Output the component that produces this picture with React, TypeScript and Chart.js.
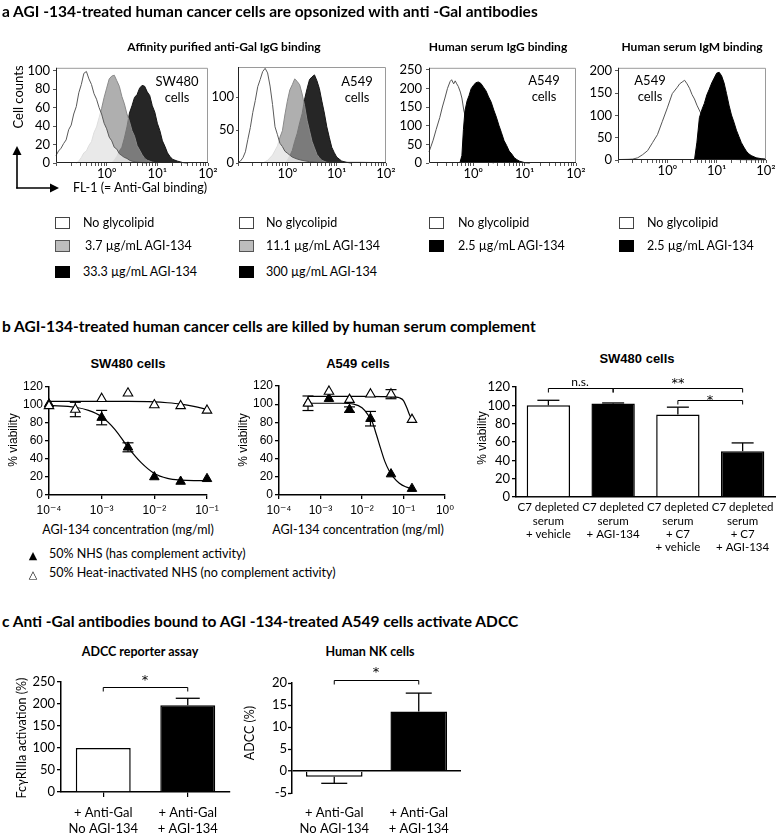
import React, { useEffect, useRef } from 'react';
import { Chart, registerables } from 'chart.js';

Chart.register(...registerables);

const LATO = 'Lato, "Open Sans", "DejaVu Sans", sans-serif';
const ARIAL = '"Liberation Sans", Arial, "DejaVu Sans", sans-serif';
Chart.defaults.font.family = LATO;
Chart.defaults.color = '#000';

// ---------------- Panel a: flow cytometry histograms ----------------
// x = log10(FL-1 intensity), y = cell counts
const histDecades = [-1, 0, 1, 2];
const histMinorSteps = [1, 2, 3, 4, 5, 6, 7, 8, 9];
const histTickLabels = ['', '10⁰', '10¹', '10²'];

// SW480, affinity purified anti-Gal IgG
const h1NoneLog = [-1.0, -0.95, -0.9, -0.85, -0.8, -0.75, -0.7, -0.65, -0.6, -0.55, -0.5, -0.45, -0.4, -0.35, -0.3, -0.25, -0.2, -0.15, -0.1, -0.05, 0.0, 0.05, 0.1, 0.15, 0.2, 0.25, 0.3, 0.35, 0.4, 0.45, 0.5, 0.6, 0.7, 0.8];
const h1NoneCnt = [8, 13, 16, 21, 25, 36, 41, 53, 61, 76, 85, 97, 99, 91, 85, 75, 69, 60, 53, 43, 37, 28, 24, 17, 15, 10, 8, 6, 5, 3, 2, 1, 0.5, 0];
const h1LowLog = [-0.6, -0.55, -0.5, -0.45, -0.4, -0.35, -0.3, -0.25, -0.2, -0.15, -0.1, -0.05, 0.0, 0.05, 0.1, 0.15, 0.2, 0.25, 0.3, 0.35, 0.4, 0.45, 0.5, 0.55, 0.6, 0.65, 0.7, 0.75, 0.8, 0.9, 1.0];
const h1LowCnt = [0, 2, 6, 11, 13, 19, 23, 33, 39, 49, 59, 71, 81, 91, 94, 95, 89, 83, 72, 64, 53, 45, 35, 29, 19, 14, 9, 5, 3, 1, 0];
const h1HighLog = [0.1, 0.15, 0.2, 0.25, 0.3, 0.35, 0.4, 0.45, 0.5, 0.55, 0.6, 0.65, 0.7, 0.75, 0.8, 0.85, 0.9, 0.95, 1.0, 1.05, 1.1, 1.15, 1.2, 1.25, 1.3, 1.4, 1.5, 1.6];
const h1HighCnt = [0, 3, 7, 13, 17, 27, 39, 54, 62, 71, 74, 81, 84, 83, 77, 73, 62, 55, 43, 35, 24, 18, 11, 7, 4, 2, 0.5, 0];

// A549, affinity purified anti-Gal IgG
const h2NoneLog = [-1.0, -0.95, -0.9, -0.85, -0.8, -0.75, -0.7, -0.65, -0.6, -0.55, -0.5, -0.45, -0.4, -0.35, -0.3, -0.25, -0.2, -0.15, -0.1, -0.05, 0.0, 0.05, 0.1, 0.2, 0.3, 0.45, 0.6, 0.8, 1.0, 1.5, 2.0];
const h2NoneCnt = [1, 3, 8, 17, 36, 54, 77, 95, 116, 127, 139, 144, 137, 117, 89, 55, 43, 30, 25, 18, 15, 12, 9, 6, 4, 2, 1, 1, 1, 1, 0.5];
const h2LowLog = [-0.5, -0.4, -0.3, -0.25, -0.2, -0.15, -0.1, -0.05, 0.0, 0.05, 0.1, 0.15, 0.2, 0.25, 0.3, 0.35, 0.4, 0.45, 0.5, 0.55, 0.6, 0.65, 0.7, 0.8, 0.9];
const h2LowCnt = [0, 4, 12, 19, 26, 39, 49, 73, 94, 111, 119, 128, 124, 119, 105, 87, 65, 49, 33, 23, 13, 8, 4, 1, 0];
const h2HighLog = [-0.05, 0.0, 0.05, 0.1, 0.15, 0.2, 0.25, 0.3, 0.35, 0.4, 0.45, 0.5, 0.55, 0.6, 0.65, 0.7, 0.75, 0.8, 0.85, 0.9, 0.95, 1.0, 1.05, 1.1, 1.2, 1.3];
const h2HighCnt = [0, 4, 11, 19, 33, 45, 61, 75, 97, 113, 127, 131, 134, 125, 113, 94, 76, 55, 39, 24, 16, 9, 6, 3, 1, 0];

// A549, human serum IgG
const h3NoneLog = [-0.86, -0.82, -0.78, -0.72, -0.65, -0.6, -0.55, -0.5, -0.45, -0.42, -0.38, -0.35, -0.32, -0.29, -0.25, -0.22, -0.18, -0.12, 0.0, 0.1, 0.2, 0.3, 0.4];
const h3NoneCnt = [30, 45, 61, 90, 122, 150, 174, 200, 218, 223, 212, 220, 212, 205, 190, 174, 139, 110, 60, 30, 12, 4, 0];
const h3HighLog = [-0.26, -0.22, -0.19, -0.16, -0.12, -0.08, -0.04, 0.0, 0.05, 0.1, 0.15, 0.2, 0.25, 0.3, 0.35, 0.4, 0.45, 0.5, 0.55, 0.6, 0.65, 0.7, 0.75, 0.8, 0.85, 0.9, 0.95, 1.0, 1.1];
const h3HighCnt = [0, 20, 90, 140, 166, 181, 199, 207, 215, 217, 213, 203, 193, 177, 163, 142, 123, 101, 81, 60, 47, 32, 24, 14, 9, 5, 3, 1, 0];

// A549, human serum IgM
const h4NoneLog = [-1.0, -0.8, -0.7, -0.6, -0.5, -0.4, -0.3, -0.2, -0.1, 0.0, 0.1, 0.2, 0.25, 0.3, 0.35, 0.4, 0.45, 0.5, 0.55, 0.6, 0.7, 0.8, 0.9, 1.0, 1.1, 1.2, 1.3, 1.4, 1.6, 2.0];
const h4NoneCnt = [1, 1.5, 2, 5, 12, 21, 39, 57, 87, 117, 149, 163, 171, 175, 179, 171, 161, 147, 137, 123, 100, 72, 48, 30, 18, 9, 4, 1, 0.5, 0.5];
const h4HighLog = [0.55, 0.6, 0.65, 0.7, 0.75, 0.8, 0.85, 0.9, 0.95, 1.0, 1.05, 1.1, 1.15, 1.2, 1.25, 1.3, 1.35, 1.4, 1.45, 1.5, 1.55, 1.6, 1.65, 1.7, 1.8, 1.9, 2.0];
const h4HighCnt = [0, 40, 95, 113, 127, 146, 159, 173, 184, 195, 197, 189, 173, 149, 123, 101, 85, 67, 53, 39, 29, 20, 14, 10, 5, 3, 2];

// ---------------- Panel b: complement-dependent killing ----------------
const swDecades = [-4, -3, -2, -1];
const swTickLabels = ['10⁻⁴', '10⁻³', '10⁻²', '10⁻¹'];
const swConcHI = [0.0001, 0.000316, 0.001, 0.00316, 0.01, 0.0316, 0.1];
const swHI = [99, 95, 107, 113, 100, 99, 94];
const swHIErr = [0, 8, 0, 0, 0, 0, 0];
const swConcNHS = [0.0001, 0.001, 0.00316, 0.01, 0.0316, 0.1];
const swNHS = [101, 86, 53, 20, 15, 18];
const swNHSErr = [0, 8, 5, 0, 0, 0];
const swFitHILog = [-4, -3, -2.5, -2, -1.75, -1.5, -1.25, -1];
const swFitHI = [104, 104, 104, 103.5, 102.5, 101, 98.5, 95];
const swFitNHSLog = [-4, -3.5, -3.25, -3, -2.75, -2.5, -2.25, -2, -1.75, -1.5, -1.25, -1];
const swFitNHS = [99.5, 97.5, 94, 87, 73, 53, 36, 24, 18.5, 16.5, 16, 16];

const a5Decades = [-4, -3, -2, -1, 0];
const a5TickLabels = ['10⁻⁴', '10⁻³', '10⁻²', '10⁻¹', '10⁰'];
const a5Conc = [0.0005, 0.0016, 0.005, 0.016, 0.05, 0.16];
const a5HI = [101, 114, 105, 111, 111, 83];
const a5HIErr = [8, 0, 0, 0, 5, 0];
const a5NHS = [101, 106, 94, 84, 23, 7];
const a5NHSErr = [0, 0, 3, 8, 0, 0];
const a5FitHILog = [-3.3, -2.0, -1.5, -1.2, -1.1, -1.0, -0.92, -0.86, -0.8];
const a5FitHI = [108.5, 108.5, 108.3, 107.8, 107, 104, 96, 89, 83];
const a5FitNHSLog = [-3.3, -2.5, -2.2, -2.0, -1.85, -1.75, -1.65, -1.55, -1.45, -1.35, -1.25, -1.1, -0.95, -0.8];
const a5FitNHS = [101, 101, 100, 96, 88, 80, 66, 51, 37, 27, 20, 13, 9, 7];

const bBarLabels = [
  ['C7 depleted', 'serum', '+ vehicle'],
  ['C7 depleted', 'serum', '+ AGI-134'],
  ['C7 depleted', 'serum', '+ C7', '+ vehicle'],
  ['C7 depleted', 'serum', '+ C7', '+ AGI-134'],
];
const bBarValues = [100, 102, 90, 50];
const bBarErr = [5.5, 0.6, 8, 9];
const bBarBrackets = [
  { from: 0, to: 1, at: 119 },
  { from: 1, to: 3, at: 119 },
  { from: 2, to: 3, at: 106 },
];

// ---------------- Panel c: ADCC ----------------
const cLabels = [
  ['+ Anti-Gal', 'No AGI-134'],
  ['+ Anti-Gal', '+ AGI-134'],
];
const c1Values = [100, 197];
const c1Err = [0, 16];
const c1Brackets = [{ from: 0, to: 1, at: 239 }];
const c2Values = [-1.3, 13.5];
const c2Err = [1.5, 4.2];
const c2Brackets = [{ from: 0, to: 1, at: 20.7 }];

// ---------------- plugins ----------------
function drawErr(chart: any, index: number, when: string) {
  const ds = chart.data.datasets[index];
  if (!ds.err || (ds.errWhen || 'after') !== when) return;
  const meta = chart.getDatasetMeta(index);
  const ys = chart.scales[meta.yAxisID];
  const ctx = chart.ctx;
  const half = (ds.errCap || 12) / 2;
  ctx.save();
  ctx.strokeStyle = '#000';
  ctx.lineWidth = ds.errWidth || 1.2;
  meta.data.forEach((el: any, i: number) => {
    const e = ds.err[i];
    if (!e) return;
    const raw = ds.data[i];
    const v = typeof raw === 'number' ? raw : raw.y;
    const x = el.x;
    const ends = ds.errOneSided ? [v + (v < 0 ? -e : e)] : [v + e, v - e];
    const start = ds.errOneSided ? v : v - e;
    ctx.beginPath();
    ctx.moveTo(x, ys.getPixelForValue(start));
    ctx.lineTo(x, ys.getPixelForValue(ends[0]));
    ctx.stroke();
    ends.forEach((end: number) => {
      const py = ys.getPixelForValue(end);
      ctx.beginPath();
      ctx.moveTo(x - half, py);
      ctx.lineTo(x + half, py);
      ctx.stroke();
    });
  });
  ctx.restore();
}

const errPlugin = {
  id: 'errBars',
  beforeDatasetDraw(chart: any, args: any) { drawErr(chart, args.index, 'before'); },
  afterDatasetDraw(chart: any, args: any) { drawErr(chart, args.index, 'after'); },
};

function makeBrackets(items: any[], drop: number) {
  return {
    id: 'brackets',
    afterDatasetsDraw(chart: any) {
      const xs = chart.scales.x;
      const ys = chart.scales.y;
      const ctx = chart.ctx;
      ctx.save();
      ctx.strokeStyle = '#000';
      ctx.lineWidth = 1;
      items.forEach((b) => {
        const x1 = xs.getPixelForValue(b.from);
        const x2 = xs.getPixelForValue(b.to);
        const y = Math.round(ys.getPixelForValue(b.at)) + 0.5;
        ctx.beginPath();
        ctx.moveTo(x1, y + drop);
        ctx.lineTo(x1, y);
        ctx.lineTo(x2, y);
        ctx.lineTo(x2, y + drop);
        ctx.stroke();
      });
      ctx.restore();
    },
  };
}

const framePlugin = {
  id: 'frame',
  afterDatasetsDraw(chart: any) {
    const { ctx, chartArea: a } = chart;
    ctx.save();
    ctx.lineWidth = 1;
    ctx.strokeStyle = '#9a9a9a';
    ctx.beginPath();
    ctx.moveTo(a.left, a.top + 0.5);
    ctx.lineTo(a.right - 0.5, a.top + 0.5);
    ctx.lineTo(a.right - 0.5, a.bottom);
    ctx.stroke();
    ctx.strokeStyle = '#222';
    ctx.beginPath();
    ctx.moveTo(a.left + 0.5, a.top);
    ctx.lineTo(a.left + 0.5, a.bottom - 0.5);
    ctx.lineTo(a.right, a.bottom - 0.5);
    ctx.stroke();
    ctx.restore();
  },
};

// ---------------- config builders ----------------
function histLabel(v: number) {
  const i = histDecades.findIndex((d) => Math.abs(v / 10 ** d - 1) < 1e-6);
  return i >= 0 ? histTickLabels[i] : '';
}

function histConfig(series: any[], xMinLog: number, xMaxLog: number, yMax: number, yStep: number, yPad: number, yTick: number) {
  return {
    type: 'line',
    data: {
      datasets: series.map((s) => ({
        data: s.log.map((e: number, i: number) => ({ x: 10 ** e, y: s.cnt[i] })),
        backgroundColor: s.bg,
        borderColor: s.bc,
        borderWidth: 1,
        fill: 'origin',
        pointRadius: 0,
        tension: 0,
        clip: 1,
      })),
    },
    options: {
      plugins: { legend: { display: false }, tooltip: { enabled: false } },
      scales: {
        x: {
          type: 'logarithmic',
          min: 10 ** xMinLog,
          max: 10 ** xMaxLog,
          afterBuildTicks: (sc: any) => {
            const t: any[] = [];
            histDecades.forEach((d) => histMinorSteps.forEach((m) => {
              const v = m * 10 ** d;
              if (v >= sc.min * 0.999 && v <= sc.max * 1.001) t.push({ value: v });
            }));
            sc.ticks = t;
          },
          ticks: { autoSkip: false, maxRotation: 0, padding: 0, font: { family: LATO, size: 13 }, color: '#000', callback: (v: number) => histLabel(v) },
          grid: { drawOnChartArea: false, tickLength: 3, color: '#555' },
          border: { display: false },
        },
        y: {
          min: 0,
          max: yMax,
          ticks: { stepSize: yStep, includeBounds: false, autoSkip: false, padding: yPad, font: { family: LATO, size: 13 }, color: '#000' },
          grid: { drawOnChartArea: false, tickLength: yTick, color: '#555' },
          border: { display: false },
        },
      },
    },
    plugins: [framePlugin],
  };
}

function doseConfig(p: any) {
  const pts = (xs: number[], ys: number[]) => xs.map((x, i) => ({ x, y: ys[i] }));
  const fit = (ls: number[], ys: number[]) => ls.map((l, i) => ({ x: 10 ** l, y: ys[i] }));
  const tri = { pointStyle: 'triangle', pointRadius: 5.5, pointHoverRadius: 5.5, borderColor: '#000', clip: false, errWhen: 'before', errCap: 11, errWidth: 1.2 };
  return {
    type: 'scatter',
    data: {
      datasets: [
        { ...tri, data: pts(p.hiConc, p.hi), err: p.hiErr, backgroundColor: '#fff', borderWidth: 1.1 },
        { ...tri, data: pts(p.nhsConc, p.nhs), err: p.nhsErr, backgroundColor: '#000', borderWidth: 1 },
        { data: fit(p.fitHiLog, p.fitHi), showLine: true, pointRadius: 0, borderColor: '#000', borderWidth: 1.2, cubicInterpolationMode: 'monotone', clip: false },
        { data: fit(p.fitNhsLog, p.fitNhs), showLine: true, pointRadius: 0, borderColor: '#000', borderWidth: 1.2, cubicInterpolationMode: 'monotone', clip: false },
      ],
    },
    options: {
      plugins: { legend: { display: false }, tooltip: { enabled: false } },
      scales: {
        x: {
          type: 'logarithmic',
          min: 10 ** p.decades[0],
          max: 10 ** p.decades[p.decades.length - 1],
          afterBuildTicks: (sc: any) => { sc.ticks = p.decades.map((d: number) => ({ value: 10 ** d })); },
          ticks: {
            autoSkip: false, maxRotation: 0, padding: 4, font: { family: ARIAL, size: 12 }, color: '#000',
            callback: (v: number) => {
              const i = p.decades.findIndex((d: number) => Math.abs(v / 10 ** d - 1) < 1e-6);
              return i >= 0 ? p.labels[i] : '';
            },
          },
          grid: { drawOnChartArea: false, tickLength: 4, color: '#000', lineWidth: 1.3 },
          border: { color: '#000', width: 1.5 },
        },
        y: {
          min: 0, max: 120,
          ticks: { stepSize: 20, autoSkip: false, padding: 2, font: { family: ARIAL, size: 12 }, color: '#000' },
          grid: { drawOnChartArea: false, tickLength: 4, color: '#000', lineWidth: 1.3 },
          border: { color: '#000', width: 1.5 },
        },
      },
    },
    plugins: [errPlugin],
  };
}

function bBarConfig() {
  return {
    type: 'bar',
    data: {
      labels: bBarLabels,
      datasets: [{
        data: bBarValues, err: bBarErr, errOneSided: true, errCap: 22, errWidth: 1.3,
        backgroundColor: ['#fff', '#000', '#fff', '#000'], borderColor: '#000', borderWidth: 1.5,
        barPercentage: 0.67, categoryPercentage: 1,
      }],
    },
    options: {
      plugins: { legend: { display: false }, tooltip: { enabled: false } },
      scales: {
        x: {
          grid: { display: false, drawTicks: false },
          border: { color: '#000', width: 1.5 },
          ticks: { padding: 4, font: { family: LATO, size: 11.5, lineHeight: 1.15 }, color: '#000', maxRotation: 0, autoSkip: false },
        },
        y: {
          min: 0, max: 120,
          ticks: { stepSize: 20, autoSkip: false, padding: 2, font: { family: LATO, size: 13 }, color: '#000' },
          grid: { drawOnChartArea: false, tickLength: 4, color: '#000', lineWidth: 1.3 },
          border: { color: '#000', width: 1.5 },
        },
      },
    },
    plugins: [errPlugin, makeBrackets(bBarBrackets, 4)],
  };
}

function c1Config() {
  return {
    type: 'bar',
    data: {
      labels: cLabels,
      datasets: [{
        data: c1Values, err: c1Err, errOneSided: true, errCap: 24, errWidth: 1.3,
        backgroundColor: ['#fff', '#000'], borderColor: '#000', borderWidth: 1.5,
        barPercentage: 0.65, categoryPercentage: 1,
      }],
    },
    options: {
      plugins: { legend: { display: false }, tooltip: { enabled: false } },
      scales: {
        x: {
          grid: { offset: false, drawOnChartArea: false, tickLength: 5, color: '#000', lineWidth: 1.2 },
          border: { color: '#000', width: 1.5 },
          ticks: { padding: 8, font: { family: LATO, size: 13, lineHeight: 1.23 }, color: '#000', maxRotation: 0, autoSkip: false },
        },
        y: {
          min: 0, max: 250,
          ticks: { stepSize: 50, autoSkip: false, padding: 2, font: { family: LATO, size: 13 }, color: '#000' },
          grid: { drawOnChartArea: false, tickLength: 4, color: '#000', lineWidth: 1.3 },
          border: { color: '#000', width: 1.5 },
        },
      },
    },
    plugins: [errPlugin, makeBrackets(c1Brackets, 4)],
  };
}

function c2Config() {
  return {
    type: 'bar',
    data: {
      labels: cLabels,
      datasets: [{
        data: c2Values, err: c2Err, errOneSided: true, errCap: 26, errWidth: 1.3,
        backgroundColor: ['#fff', '#000'], borderColor: '#000', borderWidth: 1.5,
        barPercentage: 0.67, categoryPercentage: 1,
      }],
    },
    options: {
      plugins: { legend: { display: false }, tooltip: { enabled: false } },
      scales: {
        x: {
          grid: { display: false, drawTicks: false },
          border: { display: false },
          ticks: { padding: 12, font: { family: LATO, size: 13, lineHeight: 1.23 }, color: '#000', maxRotation: 0, autoSkip: false },
        },
        y: {
          min: -5, max: 20,
          ticks: { stepSize: 5, autoSkip: false, padding: 1, font: { family: LATO, size: 13 }, color: '#000' },
          grid: {
            drawOnChartArea: true, tickLength: 4, tickColor: '#000', tickWidth: 1.3,
            color: (c: any) => (c.tick && c.tick.value === 0 ? '#000' : 'rgba(0,0,0,0)'),
            lineWidth: (c: any) => (c.tick && c.tick.value === 0 ? 1.5 : 1),
          },
          border: { color: '#000', width: 1.5 },
        },
      },
    },
    plugins: [errPlugin, makeBrackets(c2Brackets, 4)],
  };
}

// ---------------- components ----------------
function ChartAt({ area, yW, xH, padT = 12, padR = 16, make }: any) {
  const ref = useRef<HTMLCanvasElement | null>(null);
  const w = area.R - area.L + yW + padR;
  const h = area.B - area.T + padT + xH;
  useEffect(() => {
    const cfg: any = make();
    cfg.options.responsive = false;
    cfg.options.maintainAspectRatio = false;
    cfg.options.animation = false;
    cfg.options.devicePixelRatio = 1;
    cfg.options.events = [];
    cfg.options.layout = { padding: { left: 0, top: padT, right: padR, bottom: 0 } };
    cfg.options.scales.x.afterFit = (s: any) => { s.height = xH; };
    cfg.options.scales.y.afterFit = (s: any) => { s.width = yW; };
    const chart = new Chart(ref.current as HTMLCanvasElement, cfg);
    return () => chart.destroy();
  }, []);
  return (
    <canvas
      ref={ref}
      width={w}
      height={h}
      style={{ position: 'absolute', left: area.L - yW, top: area.T - padT, width: w, height: h }}
    />
  );
}

function T({ x, y, children, size = 12, bold = false, font = LATO, align = 'left', rot = false }: any) {
  const tx = rot || align === 'center' ? '-50%' : align === 'right' ? '-100%' : '0';
  return (
    <div
      style={{
        position: 'absolute', left: x, top: y,
        transform: `translate(${tx}, -50%)${rot ? ' rotate(-90deg)' : ''}`,
        fontFamily: font, fontSize: size, fontWeight: bold ? 700 : 400,
        lineHeight: 1, whiteSpace: 'nowrap', color: '#000',
      }}
    >
      {children}
    </div>
  );
}

function Sq({ x, y, bg, bd }: any) {
  return (
    <div style={{ position: 'absolute', left: x, top: y - 6, width: 15, height: 12, background: bg, border: `1.5px solid ${bd}`, boxSizing: 'border-box' }} />
  );
}

const WHITE_SQ = { bg: '#fff', bd: '#444' };
const GRAY_SQ = { bg: '#bdbdbd', bd: '#555' };
const BLACK_SQ = { bg: '#000', bd: '#000' };
const STAR = '"DejaVu Sans", sans-serif';

export default function App() {
  const whiteFront = { bg: 'rgba(255,255,255,0.72)', bc: '#5a5a5a' };
  const grayMid = { bg: 'rgba(150,150,150,0.76)', bc: '#8a8a8a' };
  const blackBack = { bg: '#262626', bc: '#151515' };
  return (
    <div style={{ position: 'absolute', left: 0, top: 0, width: 780, height: 837, background: '#fff', overflow: 'hidden' }}>
      {/* Panel a histograms */}
      <ChartAt area={{ L: 56, T: 67, R: 208, B: 163 }} yW={36} xH={24} padT={10} padR={16}
        make={() => histConfig([
          { log: h1NoneLog, cnt: h1NoneCnt, ...whiteFront },
          { log: h1LowLog, cnt: h1LowCnt, ...grayMid },
          { log: h1HighLog, cnt: h1HighCnt, ...blackBack },
        ], -1, 2, 103, 20, 3, 3)} />
      <ChartAt area={{ L: 238, T: 67, R: 386, B: 163 }} yW={30} xH={24} padT={10} padR={16}
        make={() => histConfig([
          { log: h2NoneLog, cnt: h2NoneCnt, ...whiteFront },
          { log: h2LowLog, cnt: h2LowCnt, ...grayMid },
          { log: h2HighLog, cnt: h2HighCnt, ...blackBack },
        ], -1, 2, 146, 50, 2, 2)} />
      <ChartAt area={{ L: 429, T: 66, R: 576, B: 163 }} yW={34} xH={24} padT={10} padR={16}
        make={() => histConfig([
          { log: h3HighLog, cnt: h3HighCnt, bg: '#000', bc: '#000' },
          { log: h3NoneLog, cnt: h3NoneCnt, bg: '#fff', bc: '#555' },
        ], -0.86, 2, 255, 50, 4, 3)} />
      <ChartAt area={{ L: 618, T: 67, R: 766, B: 160 }} yW={34} xH={24} padT={10} padR={13}
        make={() => histConfig([
          { log: h4HighLog, cnt: h4HighCnt, bg: '#000', bc: '#000' },
          { log: h4NoneLog, cnt: h4NoneCnt, bg: '#fff', bc: '#555' },
        ], -1, 2, 207, 50, 3, 3)} />

      {/* Panel b dose-response */}
      <ChartAt area={{ L: 49, T: 387, R: 207, B: 495 }} yW={40} xH={26} padT={12} padR={18}
        make={() => doseConfig({
          hiConc: swConcHI, hi: swHI, hiErr: swHIErr, nhsConc: swConcNHS, nhs: swNHS, nhsErr: swNHSErr,
          fitHiLog: swFitHILog, fitHi: swFitHI, fitNhsLog: swFitNHSLog, fitNhs: swFitNHS,
          decades: swDecades, labels: swTickLabels,
        })} />
      <ChartAt area={{ L: 279, T: 386, R: 445, B: 495 }} yW={40} xH={26} padT={12} padR={18}
        make={() => doseConfig({
          hiConc: a5Conc, hi: a5HI, hiErr: a5HIErr, nhsConc: a5Conc, nhs: a5NHS, nhsErr: a5NHSErr,
          fitHiLog: a5FitHILog, fitHi: a5FitHI, fitNhsLog: a5FitNHSLog, fitNhs: a5FitNHS,
          decades: a5Decades, labels: a5TickLabels,
        })} />
      <ChartAt area={{ L: 516, T: 387, R: 775, B: 497 }} yW={34} xH={60} padT={12} padR={4} make={bBarConfig} />

      {/* Panel c */}
      <ChartAt area={{ L: 61, T: 682, R: 230, B: 792 }} yW={36} xH={44} padT={12} padR={10} make={c1Config} />
      <ChartAt area={{ L: 292, T: 683, R: 461, B: 793 }} yW={30} xH={44} padT={14} padR={10} make={c2Config} />

      {/* arrows */}
      <svg width={780} height={240} style={{ position: 'absolute', left: 0, top: 0, pointerEvents: 'none' }}>
        <line x1={17} y1={188.5} x2={17} y2={153} stroke="#000" strokeWidth={1.6} />
        <polygon points="17,146 12.5,155 21.5,155" fill="#000" />
        <line x1={16.2} y1={188} x2={52} y2={188} stroke="#000" strokeWidth={1.6} />
        <polygon points="59,188 50,183.5 50,192.5" fill="#000" />
      </svg>

      {/* Panel a text */}
      <T x={2} y={12} size={15.5} bold>a AGI -134-treated human cancer cells are opsonized with anti -Gal antibodies</T>
      <T x={224} y={47} size={12} bold align="center">Affinity purified anti-Gal IgG binding</T>
      <T x={498} y={47} size={12} bold align="center">Human serum IgG binding</T>
      <T x={692} y={47} size={12} bold align="center">Human serum IgM binding</T>
      <T x={177} y={81} size={13} align="center">SW480</T>
      <T x={177} y={97} size={13} align="center">cells</T>
      <T x={357} y={81} size={13} align="center">A549</T>
      <T x={357} y={97} size={13} align="center">cells</T>
      <T x={544} y={80} size={13} align="center">A549</T>
      <T x={544} y={96} size={13} align="center">cells</T>
      <T x={650} y={80} size={13} align="center">A549</T>
      <T x={650} y={96} size={13} align="center">cells</T>
      <T x={18} y={97} size={13} rot>Cell counts</T>
      <T x={73} y={188} size={12.5}>FL-1 (= Anti-Gal binding)</T>

      {/* Panel a legends */}
      <Sq x={55} y={223} {...WHITE_SQ} /><T x={83} y={223} size={12.5}>No glycolipid</T>
      <Sq x={55} y={246} {...GRAY_SQ} /><T x={85} y={246} size={12.5}>3.7 µg/mL AGI-134</T>
      <Sq x={55} y={272} {...BLACK_SQ} /><T x={83} y={272} size={12.5}>33.3 µg/mL AGI-134</T>
      <Sq x={239} y={223} {...WHITE_SQ} /><T x={266} y={223} size={12.5}>No glycolipid</T>
      <Sq x={239} y={246} {...GRAY_SQ} /><T x={266} y={246} size={12.5}>11.1 µg/mL AGI-134</T>
      <Sq x={239} y={272} {...BLACK_SQ} /><T x={266} y={272} size={12.5}>300 µg/mL AGI-134</T>
      <Sq x={429} y={223} {...WHITE_SQ} /><T x={458} y={223} size={12.5}>No glycolipid</T>
      <Sq x={429} y={246} {...BLACK_SQ} /><T x={458} y={246} size={12.5}>2.5 µg/mL AGI-134</T>
      <Sq x={619} y={223} {...WHITE_SQ} /><T x={647} y={223} size={12.5}>No glycolipid</T>
      <Sq x={619} y={246} {...BLACK_SQ} /><T x={647} y={246} size={12.5}>2.5 µg/mL AGI-134</T>

      {/* Panel b text */}
      <T x={2} y={327} size={15.5} bold>b AGI-134-treated human cancer cells are killed by human serum complement</T>
      <T x={128} y={363} size={13} bold font={ARIAL} align="center">SW480 cells</T>
      <T x={358} y={363} size={13} bold font={ARIAL} align="center">A549 cells</T>
      <T x={637} y={358} size={13} bold font={ARIAL} align="center">SW480 cells</T>
      <T x={13} y={440} size={12} font={ARIAL} rot>% viability</T>
      <T x={243} y={440} size={12} font={ARIAL} rot>% viability</T>
      <T x={482} y={438} size={12} font={ARIAL} rot>% viability</T>
      <T x={128} y={530} size={12.5} align="center">AGI-134 concentration (mg/ml)</T>
      <T x={358} y={530} size={12.5} align="center">AGI-134 concentration (mg/ml)</T>
      <T x={33} y={554} size={11} align="center">▲</T>
      <T x={49} y={554} size={12.5}>50% NHS (has complement activity)</T>
      <T x={33} y={573} size={11} align="center">△</T>
      <T x={49} y={573} size={12.5}>50% Heat-inactivated NHS (no complement activity)</T>
      <T x={580} y={382} size={12} align="center">n.s.</T>
      <T x={678} y={382} size={13} font={STAR} align="center">**</T>
      <T x={710} y={399} size={13} font={STAR} align="center">*</T>

      {/* Panel c text */}
      <T x={2} y={622} size={15.5} bold>c Anti -Gal antibodies bound to AGI -134-treated A549 cells activate ADCC</T>
      <T x={140} y={652} size={12.5} bold align="center">ADCC reporter assay</T>
      <T x={370} y={652} size={12.5} bold align="center">Human NK cells</T>
      <T x={145} y={679} size={13} font={STAR} align="center">*</T>
      <T x={376} y={671} size={13} font={STAR} align="center">*</T>
      <T x={22} y={738} size={12.5} rot>FcγRIIIa activation (%)</T>
      <T x={250} y={733} size={12.5} rot>ADCC (%)</T>
    </div>
  );
}
